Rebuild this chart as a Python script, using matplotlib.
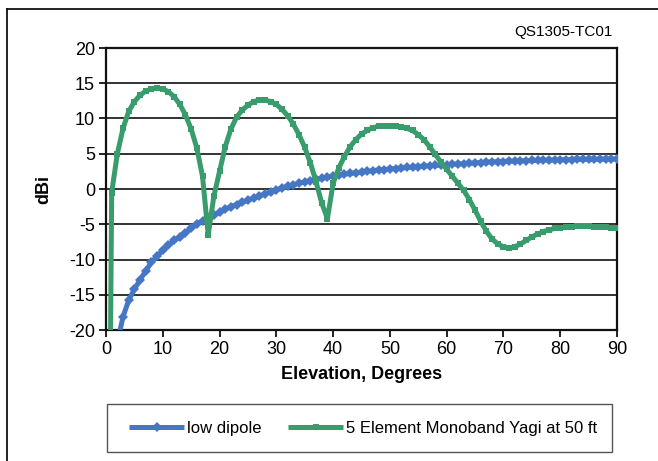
import matplotlib
matplotlib.use("Agg")
import matplotlib.pyplot as plt
from matplotlib.lines import Line2D
from matplotlib.patches import Rectangle

plt.rcParams['font.family'] = ['Liberation Sans', 'DejaVu Sans']
plt.rcParams['axes.unicode_minus'] = False

elevation = list(range(0, 91))

low_dipole = [
    -99, -28.0, -21.8, -18.1, -15.8, -14.2, -12.9, -11.6, -10.4, -9.5,
    -8.7, -8.0, -7.3, -6.8, -6.2, -5.6, -5.0, -4.5, -4.1, -3.7,
    -3.3, -2.9, -2.5, -2.2, -1.9, -1.6, -1.3, -1.0, -0.7, -0.45,
    -0.15, 0.15, 0.4, 0.6, 0.8, 1.0, 1.2, 1.35, 1.5, 1.65,
    1.8, 1.95, 2.1, 2.2, 2.3, 2.4, 2.5, 2.6, 2.7, 2.75,
    2.85, 2.9, 2.95, 3.05, 3.1, 3.15, 3.25, 3.3, 3.35, 3.4,
    3.45, 3.5, 3.55, 3.6, 3.65, 3.7, 3.75, 3.8, 3.85, 3.85,
    3.9, 3.95, 3.95, 4.0, 4.0, 4.05, 4.05, 4.1, 4.1, 4.1,
    4.15, 4.15, 4.15, 4.2, 4.2, 4.2, 4.2, 4.2, 4.25, 4.25,
    4.25,
]

yagi = [
    -99, -0.5, 5.0, 8.6, 11.0, 12.4, 13.3, 13.9, 14.2, 14.3,
    14.2, 13.8, 13.1, 12.0, 10.5, 8.5, 5.8, 1.8, -6.5, -1.0,
    2.5, 6.0, 8.5, 10.2, 11.2, 11.9, 12.4, 12.6, 12.6, 12.4,
    12.0, 11.3, 10.4, 9.2, 7.7, 5.9, 3.7, 1.0, -2.0, -4.2,
    0.8, 3.0, 4.6, 6.0, 7.0, 7.8, 8.3, 8.7, 8.9, 9.0,
    9.0, 8.9, 8.8, 8.6, 8.3, 7.7, 7.0, 6.0, 4.9, 3.8,
    2.8, 1.8, 0.8, -0.2, -1.5, -3.0, -4.6, -6.0, -7.1, -7.8,
    -8.2, -8.35, -8.2, -7.8, -7.3, -6.8, -6.4, -6.05, -5.8, -5.6,
    -5.5, -5.4, -5.35, -5.3, -5.3, -5.3, -5.35, -5.4, -5.45, -5.5,
    -5.6,
]

series_names = ["low dipole", "5 Element Monoband Yagi at 50 ft"]
x_ticks = list(range(0, 91, 10))
y_ticks = list(range(-20, 21, 5))

blue = '#4677C4'
green = '#389C6C'

W, H = 658, 461
fig = plt.figure(figsize=(W / 100, H / 100), dpi=100)

def fx(px):
    return px / W

def fy(py):
    return 1 - py / H

ax = fig.add_axes([fx(106), fy(330), fx(617) - fx(106), fy(48) - fy(330)])

blue_style = dict(color=blue, lw=3.6, marker='D', markersize=5.5, markeredgewidth=0)
green_style = dict(color=green, lw=3.6, marker='s', markersize=4.5, markeredgewidth=0)

ax.plot(elevation, low_dipole, label=series_names[0], zorder=3, **blue_style)
ax.plot(elevation, yagi, label=series_names[1], zorder=4, **green_style)

ax.set_xlim(0, 90)
ax.set_ylim(-20, 20)
ax.set_xticks(x_ticks)
ax.set_yticks(y_ticks)
ax.yaxis.grid(True, color='#222222', lw=1.3)
ax.set_axisbelow(True)
for s in ax.spines.values():
    s.set_linewidth(1.6)
    s.set_color('#111111')
ax.tick_params(axis='both', direction='out', length=5, width=1.3,
               labelsize=13, color='#111111', pad=3)
ax.set_xlabel('Elevation, Degrees', fontsize=13, fontweight='bold', labelpad=6)
ax.set_ylabel('dBi', fontsize=13, fontweight='bold', labelpad=12)

fig.text(fx(613), fy(32), 'QS1305-TC01', ha='right', va='center', fontsize=11)

# Outer frame (left and top edges visible)
fig.add_artist(Line2D([fx(7), fx(7)], [fy(9), 0], color='#111111', lw=1.3))
fig.add_artist(Line2D([fx(7), 1], [fy(9), fy(9)], color='#111111', lw=1.3))

# Legend box
fig.add_artist(Rectangle((fx(107), fy(452)), fx(612) - fx(107), fy(404) - fy(452),
                         fill=False, edgecolor='#555555', lw=1.0))
handles = [Line2D([], [], solid_capstyle='butt', **blue_style),
           Line2D([], [], solid_capstyle='butt', **green_style)]
leg = fig.legend(handles, series_names, loc='center',
                 bbox_to_anchor=(fx(363), fy(428)), ncol=2, frameon=False,
                 fontsize=12, handlelength=3.3, handletextpad=0.15,
                 columnspacing=1.6, numpoints=1)

fig.savefig('out.png', dpi=100)
